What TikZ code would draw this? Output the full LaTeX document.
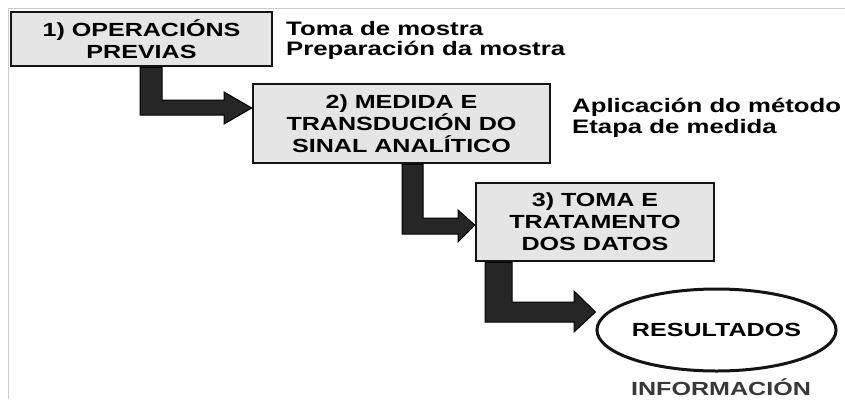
\documentclass[tikz,border=0pt]{standalone}
\usepackage{fontspec}
\setmainfont{Liberation Sans}[FakeStretch=1.32]
\usetikzlibrary{shapes.geometric}
\newcommand\boxfont{\fontsize{19}{22}\selectfont\bfseries}
\newcommand\sidefont{\fontsize{19.5}{20.5}\selectfont\bfseries}
\begin{document}
\begin{tikzpicture}[x=1pt,y=-1pt,
  stage/.style={draw=black!92, line width=2.5pt, fill=gray!20, align=center, inner sep=0pt, font=\boxfont},
  side/.style={align=left, inner sep=0pt, font=\sidefont, anchor=north west},
  flow/.style={fill=black!85, draw=black, line width=1pt, line join=miter},
]
\useasboundingbox (0,0) rectangle (845,399);
\draw[gray!40, line width=1pt] (8,399) -- (8,8) -- (845,8);

\node[stage, minimum width=261pt, minimum height=54pt] (b1) at (141.5,39) {1) OPERACIÓNS\\PREVIAS};
\node[stage, minimum width=297pt, minimum height=79pt] (b2) at (401.5,123.5) {2) MEDIDA E\\TRANSDUCIÓN DO\\SINAL ANALÍTICO};
\node[stage, minimum width=238pt, minimum height=78pt] (b3) at (595,222) {3) TOMA E\\TRATAMENTO\\DOS DATOS};
\node[draw=black!92, ellipse, line width=3pt, minimum width=235pt, minimum height=82pt, inner sep=0pt, font=\boxfont] (res) at (716.5,330) {RESULTADOS};
\node[font=\boxfont, text=black!78, anchor=base, inner sep=0pt] (info) at (721,395) {INFORMACIÓN};

\node[side] (t1) at (286,21) {Toma de mostra\\Preparación da mostra};
\node[side] (t2) at (572,98) {Aplicación do método\\Etapa de medida};

\filldraw[flow] (140,0 |- b1.south) -- (140,115) -- (224,115) -- (224,124) -- (b2.west |- 0,108) -- (224,92) -- (224,100) -- (162,100) -- (162,0 |- b1.south) -- cycle;
\filldraw[flow] (402,0 |- b2.south) -- (402,234) -- (458,234) -- (458,242) -- (b3.west |- 0,225) -- (458,210) -- (458,218) -- (423,218) -- (423,0 |- b2.south) -- cycle;
\filldraw[flow] (485,0 |- b3.south) -- (485,322) -- (574,322) -- (574,332) -- (res.west |- 0,312) -- (574,291) -- (574,302) -- (512,302) -- (512,0 |- b3.south) -- cycle;
\end{tikzpicture}
\end{document}
